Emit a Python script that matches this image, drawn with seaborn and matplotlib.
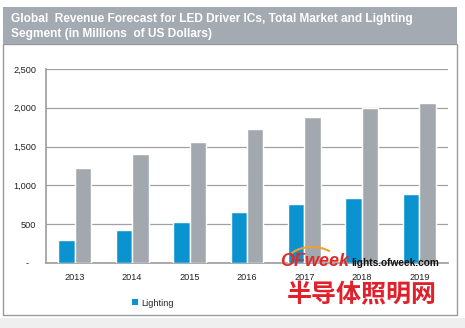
import matplotlib
matplotlib.use("Agg")
import matplotlib.pyplot as plt
from matplotlib.patches import Rectangle, Patch, Arc
from matplotlib.ticker import FixedLocator, FuncFormatter
import seaborn as sns
import pandas as pd

years = ["2013", "2014", "2015", "2016", "2017", "2018", "2019"]
lighting = [300, 420, 530, 660, 765, 840, 890]
total_market = [1230, 1400, 1565, 1730, 1885, 2000, 2065]
series_names = ["Lighting", "Total Market"]
y_ticks = [0, 500, 1000, 1500, 2000, 2500]

df = pd.DataFrame({
    "year": years * 2,
    "series": [series_names[0]] * len(years) + [series_names[1]] * len(years),
    "value": lighting + total_market,
})

sns.set_theme(style="white")
plt.rcParams["font.family"] = ["Liberation Sans", "DejaVu Sans"]

BLUE = "#0a93cf"
GREY = "#a2a8ad"

W, H = 465, 328
fig = plt.figure(figsize=(W / 100, H / 100), dpi=100)
fig.patch.set_facecolor("white")

def fx(px):
    return px / W

def fy(py):
    return 1 - py / H

# page strip at the bottom
fig.patches.append(Rectangle((0, 0), 1, fy(318), transform=fig.transFigure,
                             facecolor="#efefef", edgecolor="none", zorder=-3))
# chart frame
fig.patches.append(Rectangle((fx(3), fy(315)), fx(457) - fx(3), fy(44) - fy(315),
                             transform=fig.transFigure, facecolor="white",
                             edgecolor="#9a9a9a", linewidth=1.0, zorder=-2))
# title band
fig.patches.append(Rectangle((fx(3), fy(44)), fx(457) - fx(3), fy(7) - fy(44),
                             transform=fig.transFigure, facecolor="#a3aab1",
                             edgecolor="none", zorder=-1))
fig.text(fx(11), fy(19), "Global  Revenue Forecast for LED Driver ICs, Total Market and Lighting",
         color="white", fontsize=8.6, fontweight="bold", va="center", ha="left")
fig.text(fx(11), fy(34), "Segment (in Millions  of US Dollars)",
         color="white", fontsize=8.6, fontweight="bold", va="center", ha="left")

ax = fig.add_axes([fx(46), fy(263), fx(448) - fx(46), fy(69) - fy(263)])
ax.patch.set_alpha(0)
sns.barplot(data=df, x="year", y="value", hue="series", order=years,
            hue_order=series_names, palette=[BLUE, GREY], width=0.57,
            saturation=1, ax=ax, legend=False, zorder=3)

ax.set_ylim(0, 2500)
ax.set_xlim(-0.5, len(years) - 0.5)
ax.yaxis.set_major_locator(FixedLocator(y_ticks))
ax.yaxis.set_major_formatter(FuncFormatter(lambda v, p: "-   " if v == 0 else f"{int(v):,}"))
ax.grid(axis="y", color="#a0a0a0", linewidth=0.9, zorder=0)
ax.set_axisbelow(True)
for side in ["top", "right"]:
    ax.spines[side].set_visible(False)
ax.spines["left"].set_color("#a0a0a0")
ax.spines["bottom"].set_color("#a0a0a0")
ax.set_xlabel("")
ax.set_ylabel("")
ax.tick_params(axis="y", length=0, labelsize=6.6, labelcolor="#222222", pad=7)
ax.tick_params(axis="x", which="major", length=0, labelsize=6.6, labelcolor="#222222", pad=7)
ax.set_xticks([i - 0.5 for i in range(len(years) + 1)], minor=True)
ax.tick_params(axis="x", which="minor", length=3, color="#a0a0a0", width=0.8)

fig.legend(handles=[Patch(facecolor=BLUE, edgecolor="none", label="Lighting")],
           loc="center", bbox_to_anchor=(fx(153), fy(303)), frameon=False,
           fontsize=6.6, handlelength=0.6, handleheight=0.6, handletextpad=0.4)

# site watermark
fig.text(fx(280), fy(262), "OFweek", color="#e02a2a", fontsize=13, fontweight="bold",
         fontstyle="italic", va="center", ha="left", zorder=10)
fig.text(fx(351), fy(263), "lights.ofweek.com", color="#111111", fontsize=7.3,
         fontweight="bold", va="center", ha="left", zorder=10)
fig.patches.append(Arc((fx(312), fy(262)), fx(50), fy(240) - fy(270), theta1=40, theta2=150,
                       transform=fig.transFigure, color="#f0a030", linewidth=1.5, zorder=9))
fig.text(fx(362), fy(295), "半导体照明网", color="#e0202a", fontsize=18, fontweight="bold",
         family=["Noto Sans CJK SC", "DejaVu Sans"], va="center", ha="center", zorder=10)

fig.savefig("out.png", dpi=100)
